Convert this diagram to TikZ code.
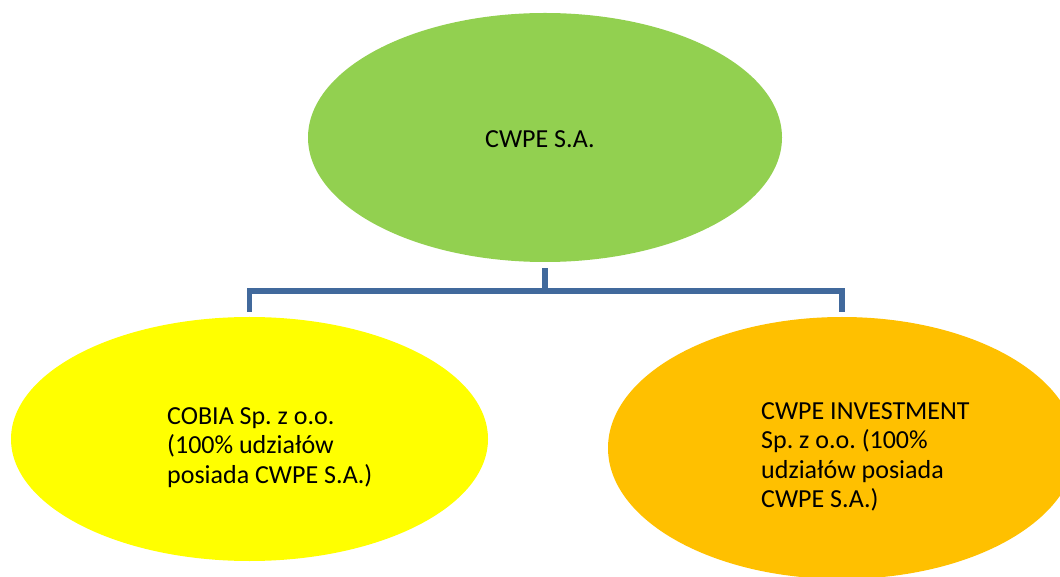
\documentclass[tikz,border=0pt]{standalone}
\usepackage{fontspec}
\setmainfont{Carlito}
\frenchspacing
\usetikzlibrary{shapes.geometric}
\definecolor{cgreen}{HTML}{92D050}
\definecolor{cyellow}{HTML}{FFFF00}
\definecolor{corange}{HTML}{FFC000}
\definecolor{cline}{HTML}{41699C}
\begin{document}
\begin{tikzpicture}[x=1pt,y=1pt,
  blob/.style={ellipse,draw=none,inner sep=0pt},
  lbl/.style={inner sep=0pt,align=left,font=\fontsize{26}{29.5}\selectfont},
  conn/.style={draw=cline,line width=5.6pt}]
\useasboundingbox (0,0) rectangle (1060,576);
\clip (0,0) rectangle (1060,576);
\node[blob,fill=cgreen,minimum width=474pt,minimum height=249pt] (top) at (545,438.5) {};
\node[blob,fill=cyellow,minimum width=477pt,minimum height=244pt] (lft) at (249.5,137) {};
\node[blob,fill=corange,minimum width=468pt,minimum height=262pt] (rgt) at (842,128) {};
\node[lbl,anchor=base west] (ttop) at (485,428) {CWPE S.A.};
\node[lbl,anchor=north west] (tlft) at (167,169) {COBIA Sp. z o.o.\\(100\% udziałów\\posiada CWPE S.A.)};
\node[lbl,anchor=north west] (trgt) at (761,174) {CWPE INVESTMENT\\Sp. z o.o. (100\%\\udziałów posiada\\CWPE S.A.)};
\draw[conn] ([yshift=-6pt]top.south) -- ++(0,-23) coordinate (j);
\draw[conn] ([yshift=5pt]lft.north) |- (j) -| ([yshift=5pt]rgt.north);
\end{tikzpicture}
\end{document}
